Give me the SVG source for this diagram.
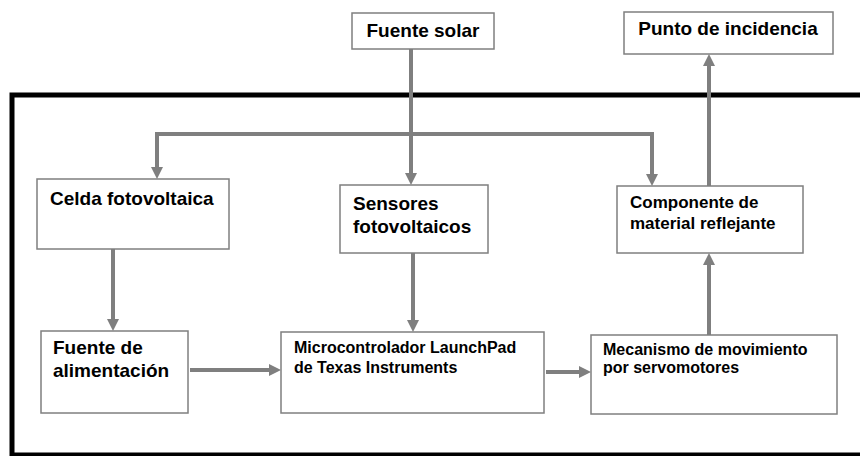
<svg xmlns="http://www.w3.org/2000/svg" width="860" height="456" viewBox="0 0 860 456">
<style>
.box{fill:#fff;stroke:#7f7f7f;stroke-width:1.5}
.t{font-family:"Liberation Sans",Arial,sans-serif;font-weight:bold;fill:#000}
.l{font-size:19px}
.m{font-size:17px}
.s{font-size:16px}
.c{fill:none;stroke:#7f7f7f;stroke-width:4}
</style>
<defs>
<marker id="ah" viewBox="0 0 12 12" refX="6" refY="6" markerWidth="12" markerHeight="12" markerUnits="userSpaceOnUse" orient="auto">
<path d="M0,0 L12,6 L0,12 z" fill="#7f7f7f"/>
</marker>
</defs>
<rect x="12" y="95" width="870" height="360" fill="none" stroke="#000" stroke-width="5"/>
<g id="connectors">
<path class="c" d="M411,49 V179" marker-end="url(#ah)"/>
<path class="c" d="M411,134 H157 V173" marker-end="url(#ah)"/>
<path class="c" d="M411,134 H652 V180" marker-end="url(#ah)"/>
<path class="c" d="M709,186 V60" marker-end="url(#ah)"/>
<path class="c" d="M113,249 V325" marker-end="url(#ah)"/>
<path class="c" d="M413,253 V326" marker-end="url(#ah)"/>
<path class="c" d="M190,370 H275" marker-end="url(#ah)"/>
<path class="c" d="M546,372 H585" marker-end="url(#ah)"/>
<path class="c" d="M709,335 V259" marker-end="url(#ah)"/>
</g>
<g id="fuente-solar">
<rect class="box" x="352" y="13" width="142" height="36"/>
<text class="t l" x="423" y="37" text-anchor="middle">Fuente solar</text>
</g>
<g id="punto-incidencia">
<rect class="box" x="624" y="12" width="209" height="42"/>
<text class="t l" x="728" y="35" text-anchor="middle">Punto de incidencia</text>
</g>
<g id="celda">
<rect class="box" x="37" y="179" width="192" height="70"/>
<text class="t l" x="50" y="205">Celda fotovoltaica</text>
</g>
<g id="sensores">
<rect class="box" x="340" y="185" width="148" height="68"/>
<text class="t l" x="353" y="210">Sensores</text>
<text class="t l" x="353" y="233">fotovoltaicos</text>
</g>
<g id="componente">
<rect class="box" x="617" y="186" width="186" height="67"/>
<text class="t m" x="630" y="208">Componente de</text>
<text class="t m" x="630" y="229">material reflejante</text>
</g>
<g id="fuente-alimentacion">
<rect class="box" x="41" y="331" width="147" height="82"/>
<text class="t l" x="53" y="354">Fuente de</text>
<text class="t l" x="53" y="377">alimentación</text>
</g>
<g id="microcontrolador">
<rect class="box" x="281" y="332" width="263" height="81"/>
<text class="t s" x="294" y="353">Microcontrolador LaunchPad</text>
<text class="t s" x="294" y="373">de Texas Instruments</text>
</g>
<g id="mecanismo">
<rect class="box" x="591" y="335" width="246" height="79"/>
<text class="t s" x="603" y="355">Mecanismo de movimiento</text>
<text class="t s" x="603" y="373">por servomotores</text>
</g>
</svg>
